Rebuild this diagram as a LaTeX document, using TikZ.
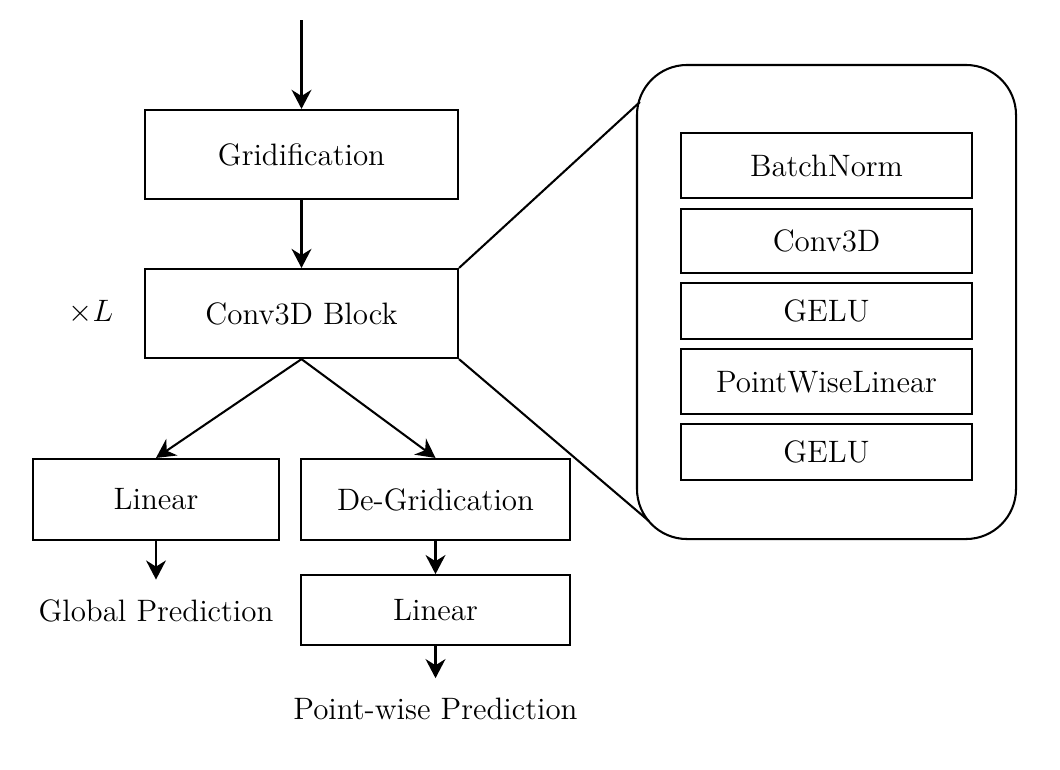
\documentclass[tikz,border=0pt]{standalone}
\usepackage{tikz}
\usetikzlibrary{arrows.meta,calc,positioning}

\begin{document}
\begin{tikzpicture}[
    x=0.3873pt, y=-0.3873pt,
    font=\large,
    block/.style={draw, thick, align=center, minimum width=121.2pt, minimum height=34.5pt},
    smallbox/.style={draw, thick, align=center, minimum height=31.4pt},
    layer/.style={draw, thick, align=center, minimum width=112.7pt},
    zoombox/.style={draw, thick, rounded corners=19.4pt, minimum width=146.8pt, minimum height=183.6pt},
    label/.style={align=center},
    arrow/.style={-{Stealth[length=7.4pt, width=7.7pt, inset=2.4pt]}, thick}
  ]
    \useasboundingbox (0,0) rectangle (1060,769);

    \coordinate (input) at (301.5,20);
    \node[block] (grid) at (301.5,154.5) {Gridification};
    \node[block, below=26.3pt of grid] (conv) {Conv3D Block};
    \node[label] (times) at (91,312) {$\times L$};

    \node[smallbox, minimum width=95.3pt] (lin1) at (156,499.5) {Linear};
    \node[smallbox, minimum width=104.2pt] (degrid) at (435.5,499.5) {De-Gridication};
    \node[smallbox, minimum width=104.2pt, minimum height=27.1pt, below=12.8pt of degrid] (lin2) {Linear};
    \node[label] (global) at (156,611) {Global Prediction};
    \node[label] (pointwise) at (435.5,709.3) {Point-wise Prediction};

    % expanded block
    \node[zoombox] (zoom) at (826.5,302) {};
    \node[layer, minimum height=25.2pt, below=26.3pt of zoom.north] (bn) {BatchNorm};
    \node[layer, minimum height=24.8pt, below=3.3pt of bn] (c3d) {Conv3D};
    \node[layer, minimum height=21.7pt, below=3.3pt of c3d] (gelu1) {GELU};
    \node[layer, minimum height=25.2pt, below=3.1pt of gelu1] (pwl) {PointWiseLinear};
    \node[layer, minimum height=21.7pt, below=2.9pt of pwl] (gelu2) {GELU};
    \coordinate (ztop) at ($(zoom.north west)+(4,38)$);
    \coordinate (zbot) at ($(zoom.south west)+(13,-19)$);

    \draw[arrow] (input) -- (grid);
    \draw[arrow] (grid) -- (conv);
    \draw[arrow] (conv.south) -- (lin1.north);
    \draw[arrow] (conv.south) -- (degrid.north);
    \draw[arrow, shorten >=4.3pt] (lin1) -- (global);
    \draw[arrow] (degrid) -- (lin2);
    \draw[arrow, shorten >=4.3pt] (lin2) -- (pointwise);
    \draw[thick] (conv.north east) -- (ztop);
    \draw[thick] (conv.south east) -- (zbot);
  \end{tikzpicture}
\end{document}
